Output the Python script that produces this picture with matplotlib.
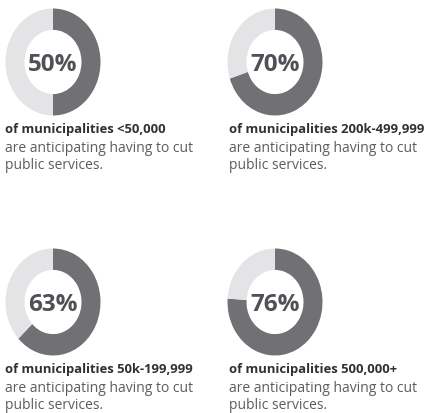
import matplotlib
matplotlib.use("Agg")
import matplotlib.pyplot as plt

# 数据
percents = [50, 70, 63, 76]
groups = ["<50,000", "200k-499,999", "50k-199,999", "500,000+"]
body_text = "are anticipating having to cut\npublic services."

W, H = 433, 414
fig = plt.figure(figsize=(W / 100, H / 100), dpi=100)
fig.patch.set_facecolor("white")

DARK = "#707075"
LIGHT = "#e4e4e6"

# 每个圆环的中心位置（像素，从左上角起）
centers = [(53, 63), (275, 63), (53, 303), (275, 303)]
text_x = [5, 229, 5, 229]
rx, ry = 47.5, 53.5


def px(x, y):
    return x / W, 1 - y / H


for pct, grp, (cx, cy), tx in zip(percents, groups, centers, text_x):
    left, bottom = (cx - rx) / W, 1 - (cy + ry) / H
    ax = fig.add_axes([left, bottom, 2 * rx / W, 2 * ry / H])
    ax.pie([pct, 100 - pct], colors=[DARK, LIGHT], startangle=90, counterclock=False,
           wedgeprops=dict(width=0.4, linewidth=0), radius=1.0)
    ax.set_aspect("auto")
    ax.set_xlim(-1, 1)
    ax.set_ylim(-1, 1)
    ax.axis("off")
    ax.text(0, -0.03, f"{pct}%", ha="center", va="center", fontsize=17.5,
            color="#505056", fontfamily="Open Sans", fontweight="bold")

    dy = cy - 63
    x0, y0 = px(tx, 130 + dy)
    fig.text(x0, y0, f"of municipalities {grp}", ha="left", va="center",
             fontsize=9.4, fontweight="bold", color="#303036", fontfamily="Open Sans")
    x1, y1 = px(tx, 157 + dy)
    fig.text(x1, y1, body_text, ha="left", va="center", fontsize=10,
             color="#5c5c62", fontfamily="Open Sans", linespacing=1.25)

plt.savefig("out.png", dpi=100)
